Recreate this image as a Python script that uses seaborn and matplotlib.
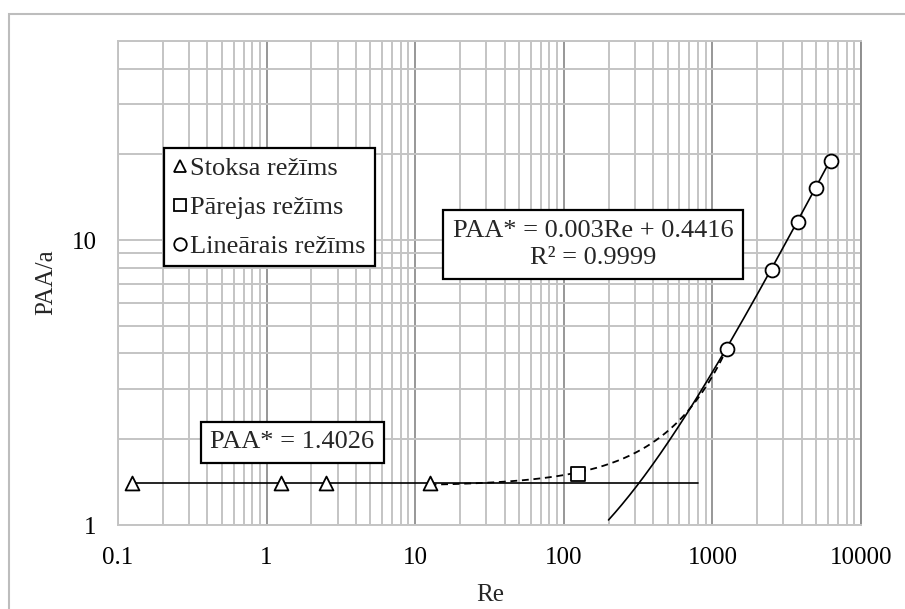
import numpy as np
import pandas as pd
import matplotlib
matplotlib.use("Agg")
import matplotlib.pyplot as plt
from matplotlib.lines import Line2D
from matplotlib.patches import Rectangle
from matplotlib.ticker import LogLocator, FixedLocator, FixedFormatter, NullFormatter
import seaborn as sns

# --- data -------------------------------------------------------------------
stokes_re = [0.125, 1.25, 2.5, 12.5]
stokes_paa = [1.4026, 1.4026, 1.4026, 1.4026]

transition_re = [125]
transition_paa = [1.51]

linear_re = [1250, 2500, 3750, 5000, 6250]
linear_paa = [4.16, 7.88, 11.6, 15.3, 19.0]

# trend parameters shown in the equation boxes
stokes_level = 1.4026
lin_slope = 0.003
lin_intercept = 0.4416
lin_r2 = 0.9999

# extents of the drawn trend lines
stokes_trend_range = [0.125, 800]
linear_trend_range = [200, 6250]

x_ticks = [0.1, 1, 10, 100, 1000, 10000]
x_tick_labels = ["0.1", "1", "10", "100", "1000", "10000"]
y_ticks = [1, 10]
y_tick_labels = ["1", "10"]
y_limits = [1, 50]

legend_labels = ["Stoksa režīms", "Pārejas režīms", "Lineārais režīms"]

# --- style --------------------------------------------------------------------
sns.set_theme(style="white")
plt.rcParams["font.family"] = ["Liberation Serif", "DejaVu Serif"]
plt.rcParams["mathtext.fontset"] = "stix"

W, H = 905, 609
fig = plt.figure(figsize=(W / 100, H / 100), dpi=100)
fig.patch.set_facecolor("white")

left, right, top, bottom = 118, 861, 41, 525
ax = fig.add_axes([left / W, 1 - bottom / H, (right - left) / W, (bottom - top) / H])
ax.set_xscale("log")
ax.set_yscale("log")
ax.set_xlim(x_ticks[0], x_ticks[-1])
ax.set_ylim(*y_limits)

# grid: darker decade lines on x, light lines elsewhere
light = "#c4c4c4"
dark = "#8f8f8f"
ax.xaxis.set_major_locator(FixedLocator(x_ticks))
ax.xaxis.set_major_formatter(FixedFormatter(x_tick_labels))
ax.xaxis.set_minor_locator(LogLocator(base=10, subs=np.arange(2, 10)))
ax.xaxis.set_minor_formatter(NullFormatter())
ax.yaxis.set_major_locator(FixedLocator(y_ticks))
ax.yaxis.set_major_formatter(FixedFormatter(y_tick_labels))
ax.yaxis.set_minor_locator(LogLocator(base=10, subs=np.arange(2, 10)))
ax.yaxis.set_minor_formatter(NullFormatter())

ax.set_axisbelow(True)
ax.grid(False)
ax.xaxis.grid(True, which="major", color=dark, lw=1.3)
ax.xaxis.grid(True, which="minor", color=light, lw=1.4)
ax.yaxis.grid(True, which="both", color=light, lw=1.4)

for side in ["left", "bottom", "top"]:
    ax.spines[side].set_color(light)
    ax.spines[side].set_linewidth(1.4)
ax.spines["right"].set_color(dark)
ax.spines["right"].set_linewidth(1.4)

ax.tick_params(axis="both", which="major", direction="out", length=6, width=1.2,
               color="#a6a6a6", labelsize=18, labelcolor="black")
ax.tick_params(axis="x", which="major", pad=10)
ax.tick_params(axis="y", which="major", pad=9, length=6.5)
ax.tick_params(which="minor", length=0)

# --- trend lines ------------------------------------------------------------
ax.plot(stokes_trend_range, [stokes_level, stokes_level], color="black", lw=1.2, zorder=3)

lin_x = np.geomspace(linear_trend_range[0], linear_trend_range[1], 300)
ax.plot(lin_x, lin_slope * lin_x + lin_intercept, color="black", lw=1.2, zorder=3)

# exponential trend across the transition region (last Stokes point, transition, first linear point)
tr_x = np.array([stokes_re[-1]] + transition_re + [linear_re[0]], dtype=float)
tr_y = np.array([stokes_paa[-1]] + transition_paa + [linear_paa[0]], dtype=float)
b, ln_a = np.polyfit(tr_x, np.log(tr_y), 1)
exp_x = np.geomspace(tr_x[0], tr_x[-1], 300)
ax.plot(exp_x, np.exp(ln_a) * np.exp(b * exp_x), color="black", lw=1.3,
        dashes=(3.8, 2.6), zorder=3)

# --- measured points ----------------------------------------------------------
marker_kw = dict(s=100, color="white", edgecolor="black", linewidth=1.3, ax=ax, zorder=5,
                 legend=False)
sns.scatterplot(x=stokes_re, y=stokes_paa, marker="^", **marker_kw)
sns.scatterplot(x=transition_re, y=transition_paa, marker="s", **marker_kw)
sns.scatterplot(x=linear_re, y=linear_paa, marker="o", **marker_kw)
ax.set_xlabel("")
ax.set_ylabel("")

# --- legend -----------------------------------------------------------------
handles = [
    Line2D([], [], ls="none", marker=m, ms=9, mfc="white", mec="black", mew=1.3)
    for m in ["^", "s", "o"]
]
leg = fig.legend(handles, legend_labels, loc="upper left",
                 bbox_to_anchor=(164 / W, 1 - 148 / H), bbox_transform=fig.transFigure,
                 fontsize=19, frameon=True, fancybox=False, framealpha=1,
                 handlelength=0.55, handletextpad=0.12, labelspacing=0.58,
                 borderpad=0.33, borderaxespad=0)
leg.get_frame().set_edgecolor("black")
leg.get_frame().set_linewidth(1.6)

# --- equation boxes ---------------------------------------------------------
box = dict(boxstyle="square,pad=0.36", facecolor="white", edgecolor="black", linewidth=1.6)
fig.text(292.5 / W, 1 - 442 / H, f"PAA* = {stokes_level:.4f}", fontsize=19,
         ha="center", va="center", bbox=box, zorder=10)
fig.text(593 / W, 1 - 244.5 / H,
         f"PAA* = {lin_slope:.3f}Re + {lin_intercept:.4f}\nR² = {lin_r2:.4f}",
         fontsize=19, ha="center", va="center", multialignment="center",
         linespacing=1.3, bbox=box, zorder=10)

# --- axis titles ------------------------------------------------------------
fig.text(46 / W, 1 - 282 / H, "PAA/a", fontsize=18, rotation=90, ha="center", va="center")
fig.text(490 / W, 1 - 595 / H, "Re", fontsize=18, ha="center", va="center")

# chart-area border
fig.add_artist(Rectangle((9 / W, -0.1), 1.2, 1 - 14 / H + 0.1, transform=fig.transFigure,
                         fill=False, edgecolor="#bdbdbd", lw=1.5, clip_on=False))

fig.savefig("out.png", dpi=100, facecolor="white")
